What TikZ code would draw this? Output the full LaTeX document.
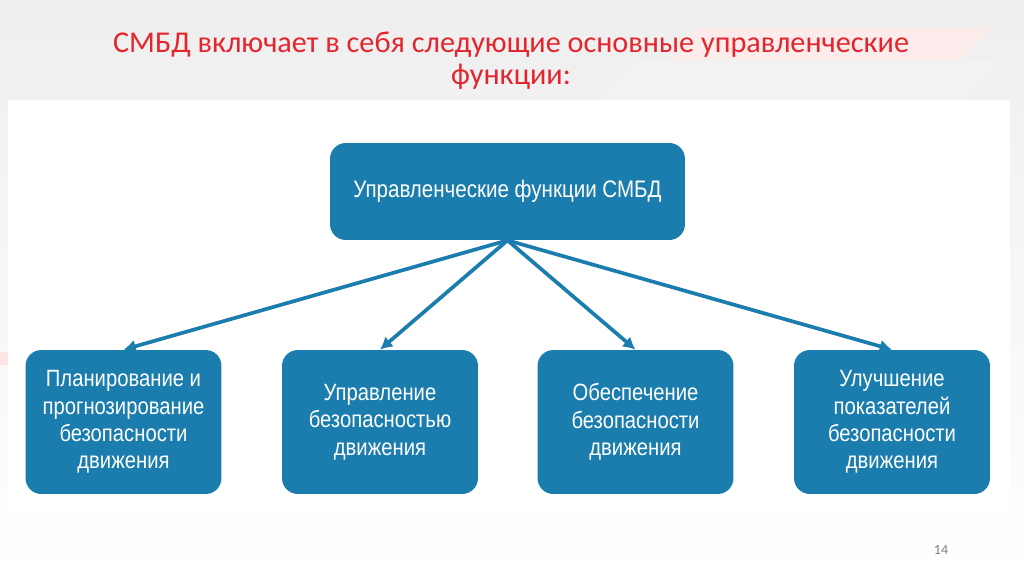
\documentclass[tikz,border=0pt]{standalone}
\usepackage{fontspec}
\setmainfont{Carlito}
\newfontfamily\boxfont[FakeStretch=0.86]{Liberation Sans}
\usetikzlibrary{arrows.meta}
\definecolor{boxblue}{HTML}{1A7DAE}
\definecolor{titlered}{HTML}{E5252D}
\tikzset{
  funcbox/.style = {
    draw=none, fill=boxblue, rounded corners=9pt, text=white,
    align=center, font=\boxfont\fontsize{13.4}{15.6}\selectfont,
    minimum width=3.92cm, minimum height=2.88cm, inner sep=0pt
  },
  arrow/.style = {-{Latex[length=7pt,width=7.5pt]}, line width=2.1pt, draw=boxblue}
}

\begin{document}
\begin{tikzpicture}[x=0.02cm,y=-0.02cm]
  % slide background
  \useasboundingbox (0,0) rectangle (1024,574);
  \shade[top color=gray!13, bottom color=white] (0,0) rectangle (1024,574);
  \fill[red!8,opacity=0.8] (640,95) -- (700,28) -- (990,28) -- (930,95) -- cycle;
  \fill[gray!10] (600,100) -- (640,60) -- (1000,60) -- (960,100) -- cycle;
  \fill[red!10] (0,352) rectangle (8,365);
  % panel
  \fill[white] (8,100) rectangle (1010,512);
  % title
  \node (title) at (511,61) [text=titlered, align=center, font=\fontsize{17.2}{18.4}\selectfont]
    {СМБД включает в себя следующие основные управленческие\\функции:};
  % boxes
  \node[funcbox, minimum width=7.1cm, minimum height=1.94cm, font=\boxfont\fontsize{13.6}{16}\selectfont]
    (top) at (507.5,191.5) {Управленческие функции СМБД};
  \node[funcbox] (plan)    at (123.5,422) {Планирование и\\прогнозирование\\безопасности\\движения};
  \node[funcbox] (manage)  at (380,422)   {Управление\\безопасностью\\движения};
  \node[funcbox] (provide) at (635.5,422) {Обеспечение\\безопасности\\движения};
  \node[funcbox] (improve) at (892,422)   {Улучшение\\показателей\\безопасности\\движения};
  % arrows
  \draw[arrow] (top.south) -- (plan.north);
  \draw[arrow] (top.south) -- (manage.north);
  \draw[arrow] (top.south) -- (provide.north);
  \draw[arrow] (top.south) -- (improve.north);
  % page number
  \node (page) at (941,550) [text=gray, font=\fontsize{8}{9}\selectfont] {14};
\end{tikzpicture}
\end{document}
